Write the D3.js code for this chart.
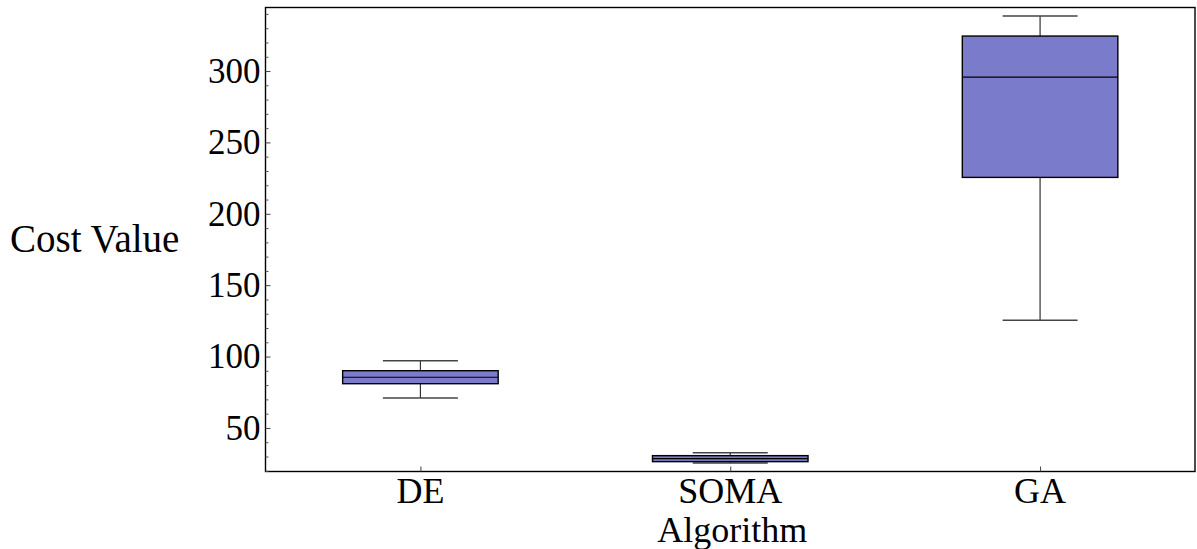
<!DOCTYPE html>
<html>
<head>
<meta charset="utf-8">
<script src="https://cdn.jsdelivr.net/npm/d3@7"></script>
<style>
  html, body { margin: 0; padding: 0; background: #fff; }
  svg { display: block; }
  text { font-family: "Liberation Serif", "DejaVu Serif", serif; fill: #000; }
</style>
</head>
<body>
<svg id="chart" width="1197" height="549"></svg>
<script>
// Cost value distribution per optimisation algorithm
const categories = ["DE", "SOMA", "GA"];
const whiskerLow  = [71.0, 25.5, 125.4];
const quartile1   = [81.0, 26.4, 225.5];
const medians     = [85.5, 28.5, 295.8];
const quartile3   = [90.1, 30.6, 324.5];
const whiskerHigh = [97.1, 32.7, 338.5];
const yTicks = [50, 100, 150, 200, 250, 300];

const rows = categories.map((c, i) => ({
  name: c, lo: whiskerLow[i], q1: quartile1[i], med: medians[i], q3: quartile3[i], hi: whiskerHigh[i]
}));

const svg = d3.select("#chart");
const frame = { left: 265.5, right: 1195, top: 7.5, bottom: 471.5 };

const x = d3.scalePoint().domain(categories).range([frame.left, frame.right]).padding(0.5);
const y = d3.scaleLinear().domain([19.5, 344.5]).range([frame.bottom, frame.top]);
const step = x.step();
const boxW = step * 0.502;
const capW = step * 0.242;

const fill = "#7b7bcb";

// Boxes and whiskers
const g = svg.append("g");
rows.forEach(d => {
  const cx = x(d.name);
  const grp = g.append("g");
  // whisker stems
  grp.append("line").attr("x1", cx).attr("x2", cx).attr("y1", y(d.hi)).attr("y2", y(d.q3))
    .attr("stroke", "#333").attr("stroke-width", 1.2);
  grp.append("line").attr("x1", cx).attr("x2", cx).attr("y1", y(d.q1)).attr("y2", y(d.lo))
    .attr("stroke", "#333").attr("stroke-width", 1.2);
  // caps
  [d.hi, d.lo].forEach(v => {
    grp.append("line").attr("x1", cx - capW / 2).attr("x2", cx + capW / 2)
      .attr("y1", y(v)).attr("y2", y(v)).attr("stroke", "#444").attr("stroke-width", 1.5);
  });
  // box
  grp.append("rect").attr("x", cx - boxW / 2).attr("width", boxW)
    .attr("y", y(d.q3)).attr("height", y(d.q1) - y(d.q3))
    .attr("fill", fill).attr("stroke", "#000").attr("stroke-width", 1.4);
  // median
  grp.append("line").attr("x1", cx - boxW / 2).attr("x2", cx + boxW / 2)
    .attr("y1", y(d.med)).attr("y2", y(d.med)).attr("stroke", "#000").attr("stroke-width", 1.2);
});

// Frame
svg.append("rect").attr("x", frame.left).attr("y", frame.top)
  .attr("width", frame.right - frame.left).attr("height", frame.bottom - frame.top)
  .attr("fill", "none").attr("stroke", "#000").attr("stroke-width", 1.4);

// Left axis: inward major and minor ticks
const yAxis = d3.axisRight(y).tickValues(yTicks).tickSize(5).tickFormat("");
const ya = svg.append("g").attr("transform", `translate(${frame.left},0)`).call(yAxis);
ya.select(".domain").remove();
ya.selectAll("line").attr("stroke", "#444");
const minor = d3.range(20, 345, 10).filter(v => !yTicks.includes(v));
const yMinor = d3.axisRight(y).tickValues(minor).tickSize(3).tickFormat("");
const ym = svg.append("g").attr("transform", `translate(${frame.left},0)`).call(yMinor);
ym.select(".domain").remove();
ym.selectAll("line").attr("stroke", "#555");

// tick labels
svg.append("g").selectAll("text").data(yTicks).join("text")
  .attr("x", frame.left - 5).attr("y", v => y(v)).attr("dy", "0.34em")
  .attr("text-anchor", "end").attr("font-size", 35).text(v => v);

// Bottom axis
const xAxis = d3.axisTop(x).tickSize(5).tickFormat("");
const xa = svg.append("g").attr("transform", `translate(0,${frame.bottom})`).call(xAxis);
xa.select(".domain").remove();
xa.selectAll("line").attr("stroke", "#444");
svg.append("g").selectAll("text").data(categories).join("text")
  .attr("x", c => x(c)).attr("y", 503).attr("text-anchor", "middle")
  .attr("font-size", 36).text(c => c);

// Axis titles
svg.append("text").attr("x", (frame.left + frame.right) / 2 + 2).attr("y", 541.5)
  .attr("text-anchor", "middle").attr("font-size", 36).text("Algorithm");
svg.append("text").attr("x", 10).attr("y", 252)
  .attr("text-anchor", "start").attr("font-size", 39).text("Cost Value");
</script>
</body>
</html>
